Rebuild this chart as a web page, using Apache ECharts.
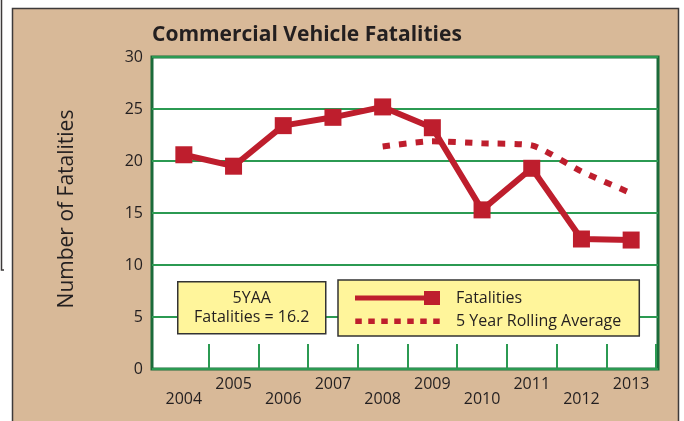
<!DOCTYPE html>
<html>
<head>
<meta charset="utf-8">
<script src="https://cdn.jsdelivr.net/npm/echarts@6/dist/echarts.min.js"></script>
<style>
  html, body { margin: 0; padding: 0; background: #fff; }
  #chart { width: 684px; height: 421px; }
</style>
</head>
<body>
<div id="chart"></div>
<script>
// data
const years = ['2004', '2005', '2006', '2007', '2008', '2009', '2010', '2011', '2012', '2013'];
const fatalities = [20.6, 19.5, 23.4, 24.2, 25.2, 23.2, 15.3, 19.3, 12.5, 12.4];
const rollingAvg = [null, null, null, null, 21.4, 21.9, 21.7, 21.5, 19.0, 16.9];
const yTicks = { min: 0, max: 30, step: 5 };

const red = '#be1e2d';
const darkGreen = '#1b6b3a';
const green = '#2b9a52';
const tan = '#d8b998';
const ink = '#231f20';
const font = 'Open Sans';

const chart = echarts.init(document.getElementById('chart'));

const option = {
  backgroundColor: 'transparent',
  textStyle: { fontFamily: font },
  graphic: [
    // tan panel
    {
      type: 'rect', z: -10, silent: true,
      shape: { x: 12.5, y: 8.5, width: 666, height: 420 },
      style: { fill: tan, stroke: '#3d3a3a', lineWidth: 1.5 }
    },
    // left edge page line
    {
      type: 'polyline', z: -10, silent: true,
      shape: { points: [[1.5, 0], [1.5, 270], [4, 270]] },
      style: { stroke: '#3d3a3a', lineWidth: 1.5, fill: null }
    },
    // 5YAA box
    {
      type: 'group', left: 177, top: 281, z: 20,
      children: [
        {
          type: 'rect', z: 20,
          shape: { x: 0, y: 0, width: 148, height: 52 },
          style: { fill: '#fff59b', stroke: '#333', lineWidth: 1.5 }
        },
        {
          type: 'text', x: 74, y: 26, z: 21,
          style: {
            text: '5YAA\nFatalities = 16.2',
            fill: ink, font: '16px "Open Sans"',
            align: 'center', verticalAlign: 'middle', lineHeight: 19
          }
        }
      ]
    }
  ],
  title: {
    text: 'Commercial Vehicle Fatalities',
    left: 147, top: 20,
    textStyle: { fontFamily: font, fontSize: 21, fontWeight: 'bold', color: ink }
  },
  legend: {
    orient: 'vertical',
    left: 338, top: 280,
    backgroundColor: '#fff59b',
    borderColor: '#333',
    borderWidth: 1.5,
    borderRadius: 0,
    padding: [10, 18, 7, 17],
    itemWidth: 85,
    itemHeight: 14,
    itemGap: 7,
    textStyle: { fontFamily: font, fontSize: 16, color: ink, padding: [0, 0, 0, 11] },
    data: [
      { name: 'Fatalities', icon: 'path://M0,4.5H69V0H85V14H69V9.5H0Z' },
      {
        name: '5 Year Rolling Average',
        icon: 'path://M0,0h0.01v0.01h-0.01Z M0,14h0.01v0.01h-0.01Z ' +
          'M0,4.5h6.5v5.5h-6.5Z M13,4.5h6.5v5.5h-6.5Z M26,4.5h6.5v5.5h-6.5Z M39,4.5h6.5v5.5h-6.5Z ' +
          'M52,4.5h6.5v5.5h-6.5Z M65,4.5h6.5v5.5h-6.5Z M78,4.5h6.5v5.5h-6.5Z'
      }
    ]
  },
  grid: [
    // plot frame
    {
      left: 152, top: 57, width: 506, height: 312,
      show: true, backgroundColor: '#fff', borderColor: darkGreen, borderWidth: 3
    },
    // data area (bands between in-plot ticks)
    { left: 159, top: 57, width: 497, height: 312 }
  ],
  xAxis: [
    { gridIndex: 0, type: 'category', data: years, show: false },
    {
      gridIndex: 1,
      type: 'category',
      data: years,
      boundaryGap: true,
      axisLine: { show: false },
      axisTick: {
        show: true, inside: true, length: 25,
        interval: (i) => i > 0,
        lineStyle: { color: green, width: 2 }
      },
      axisLabel: {
        margin: 8,
        interval: 0,
        fontFamily: font,
        fontSize: 16,
        lineHeight: 15,
        color: ink,
        // alternate labels drop one line, as in the source
        formatter: (v, i) => (i % 2 === 0 ? '\n' + v : v)
      },
      splitLine: { show: false }
    }
  ],
  yAxis: [
    {
      gridIndex: 0,
      type: 'value',
      min: yTicks.min, max: yTicks.max, interval: yTicks.step,
      name: 'Number of Fatalities',
      nameLocation: 'middle',
      nameGap: 74,
      nameTextStyle: { fontFamily: font, fontSize: 21, color: ink, padding: [0, 0, 0, 8] },
      axisLine: { show: false },
      axisTick: { show: false },
      axisLabel: { margin: 9, fontFamily: font, fontSize: 16, color: ink },
      splitLine: { lineStyle: { color: green, width: 2 } }
    },
    {
      gridIndex: 1,
      type: 'value',
      min: yTicks.min, max: yTicks.max, interval: yTicks.step,
      show: false,
      splitLine: { show: false }
    }
  ],
  series: [
    {
      name: 'Fatalities',
      type: 'line',
      xAxisIndex: 1, yAxisIndex: 1,
      data: fatalities,
      symbol: 'rect',
      symbolSize: 17,
      lineStyle: { color: red, width: 6 },
      itemStyle: { color: red },
      z: 5
    },
    {
      name: '5 Year Rolling Average',
      type: 'line',
      xAxisIndex: 1, yAxisIndex: 1,
      data: rollingAvg,
      showSymbol: false,
      symbol: 'none',
      smooth: 0.2,
      lineStyle: { color: red, width: 6, type: [7.5, 9] },
      itemStyle: { color: red },
      z: 4
    }
  ]
};

chart.setOption(option);
</script>
</body>
</html>
